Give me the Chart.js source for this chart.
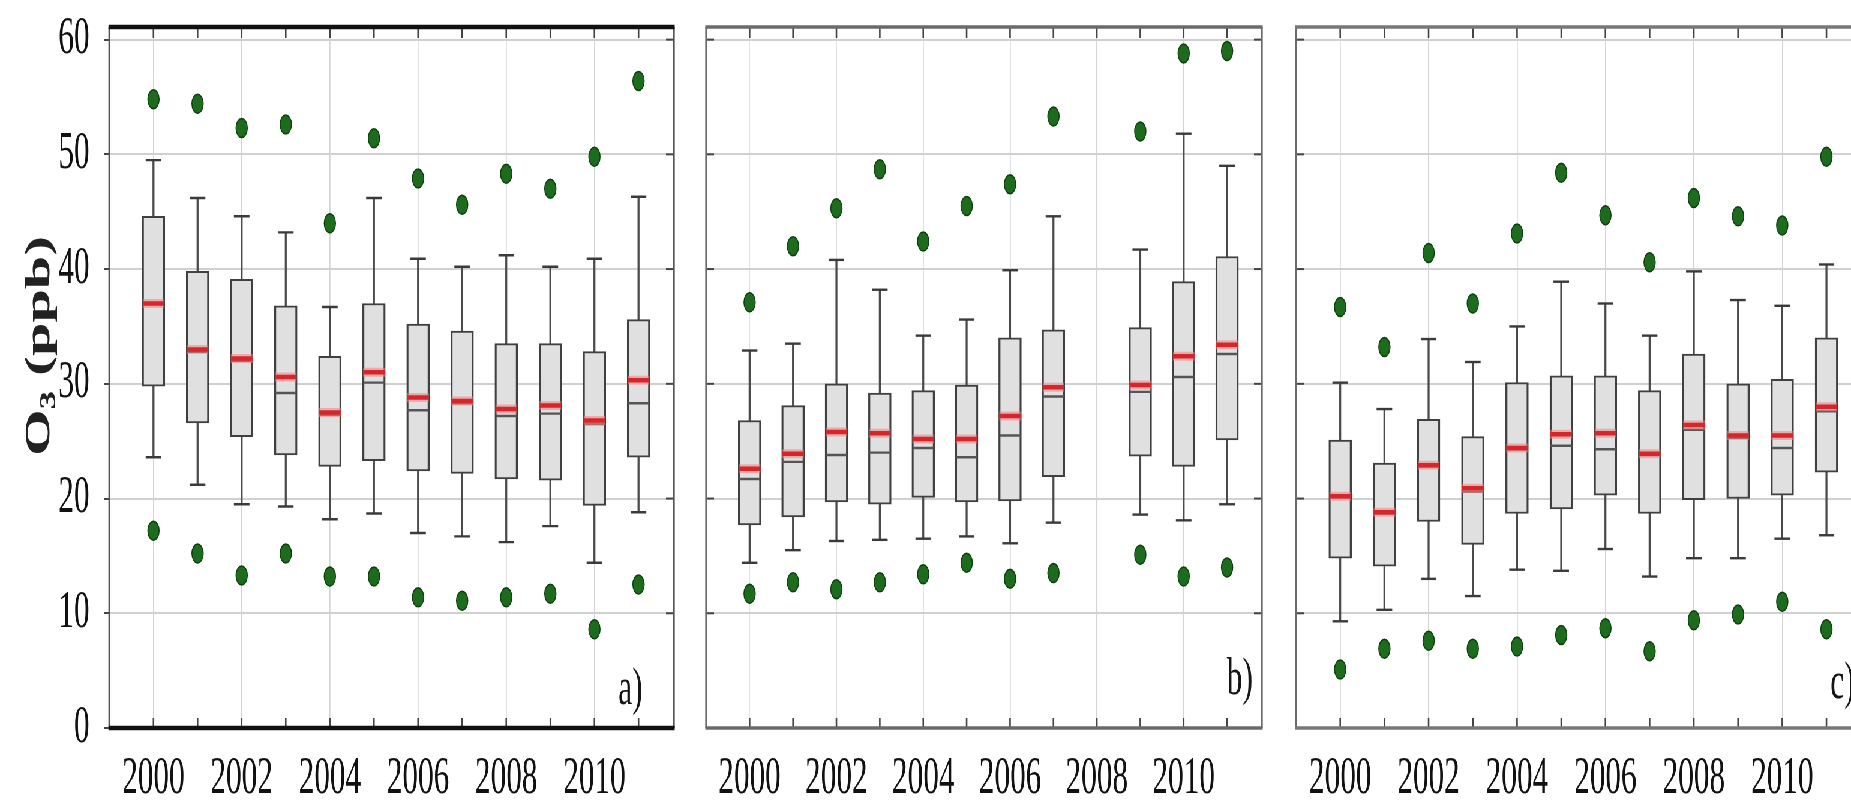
<!DOCTYPE html>
<html>
<head>
<meta charset="utf-8">
<script src="https://cdn.jsdelivr.net/npm/chart.js@4.4.1/dist/chart.umd.min.js"></script>
<style>
  html, body { margin: 0; padding: 0; background: #fff; overflow: hidden; }
  body { width: 1851px; height: 802px; position: relative; }
  /* a figura original está comprimida na horizontal: desenha-se larga e encolhe-se */
  #faixa { position: absolute; left: 0; top: 0; width: 3200px; height: 802px; transform: scaleX(0.6); transform-origin: 0 0; }
  #faixa canvas { position: absolute; top: 0; }
</style>
</head>
<body>
<div id="faixa">
  <canvas id="painelA" width="1150" height="802" style="left:0px"></canvas>
  <canvas id="painelB" width="980" height="802" style="left:1150px"></canvas>
  <canvas id="painelC" width="1000" height="802" style="left:2130px"></canvas>
</div>
<script>
// Anos e marcas dos eixos
const years = [2000, 2001, 2002, 2003, 2004, 2005, 2006, 2007, 2008, 2009, 2010, 2011];
const xTickLabels = [2000, 2002, 2004, 2006, 2008, 2010];
const yTicks = [0, 10, 20, 30, 40, 50, 60];

// Painel a)
const aLowDot = [17.2, 15.2, 13.3, 15.2, 13.2, 13.2, 11.4, 11.1, 11.4, 11.7, 8.6, 12.5];
const aLowWhisker = [23.6, 21.2, 19.5, 19.3, 18.2, 18.7, 17.0, 16.7, 16.2, 17.6, 14.4, 18.8];
const aQ1 = [29.8, 26.6, 25.4, 23.8, 22.8, 23.3, 22.4, 22.2, 21.7, 21.6, 19.4, 23.6];
const aMedian = [37.0, 32.8, 32.0, 29.2, 27.3, 30.1, 27.7, 28.3, 27.2, 27.4, 26.5, 28.3];
const aMean = [37.0, 33.0, 32.2, 30.6, 27.5, 31.0, 28.8, 28.5, 27.8, 28.1, 26.8, 30.3];
const aQ3 = [44.6, 39.8, 39.1, 36.8, 32.4, 37.0, 35.2, 34.6, 33.5, 33.5, 32.8, 35.6];
const aHighWhisker = [49.5, 46.2, 44.6, 43.2, 36.7, 46.2, 40.9, 40.2, 41.2, 40.2, 40.9, 46.3];
const aHighDot = [54.8, 54.4, 52.3, 52.6, 44.0, 51.4, 47.9, 45.6, 48.3, 47.0, 49.8, 56.4];

// Painel b) (sem dados em 2008)
const bLowDot = [11.7, 12.7, 12.1, 12.7, 13.4, 14.4, 13.0, 13.5, null, 15.1, 13.2, 14.0];
const bLowWhisker = [14.4, 15.5, 16.3, 16.4, 16.5, 16.7, 16.1, 17.9, null, 18.6, 18.1, 19.5];
const bQ1 = [17.7, 18.4, 19.7, 19.5, 20.1, 19.7, 19.8, 21.9, null, 23.7, 22.8, 25.1];
const bMedian = [21.7, 23.2, 23.8, 24.0, 24.4, 23.6, 25.5, 28.9, null, 29.3, 30.6, 32.6];
const bMean = [22.6, 23.9, 25.8, 25.7, 25.2, 25.2, 27.2, 29.7, null, 29.9, 32.4, 33.4];
const bQ3 = [26.8, 28.1, 30.0, 29.2, 29.4, 29.9, 34.0, 34.7, null, 34.9, 38.9, 41.1];
const bHighWhisker = [32.9, 33.5, 40.8, 38.2, 34.2, 35.6, 39.9, 44.6, null, 41.7, 51.8, 49.0];
const bHighDot = [37.1, 42.0, 45.3, 48.7, 42.4, 45.5, 47.4, 53.3, null, 52.0, 58.8, 59.0];

// Painel c)
const cLowDot = [5.1, 6.9, 7.6, 6.9, 7.1, 8.1, 8.7, 6.7, 9.4, 9.9, 11.0, 8.6];
const cLowWhisker = [9.3, 10.3, 13.0, 11.5, 13.8, 13.7, 15.6, 13.2, 14.8, 14.8, 16.5, 16.8];
const cQ1 = [14.8, 14.1, 18.0, 16.0, 18.7, 19.1, 20.3, 18.7, 19.9, 20.0, 20.3, 22.3];
const cMedian = [20.1, 18.7, 22.8, 20.6, 24.3, 24.6, 24.3, 23.8, 26.0, 25.3, 24.4, 27.6];
const cMean = [20.2, 18.8, 22.9, 20.9, 24.4, 25.6, 25.7, 23.9, 26.4, 25.5, 25.5, 28.0];
const cQ3 = [25.1, 23.1, 26.9, 25.4, 30.1, 30.7, 30.7, 29.4, 32.6, 30.0, 30.4, 34.0];
const cHighWhisker = [30.1, 27.8, 33.9, 31.9, 35.0, 38.9, 37.0, 34.2, 39.8, 37.3, 36.8, 40.4];
const cHighDot = [36.7, 33.2, 41.4, 37.0, 43.1, 48.4, 44.7, 40.6, 46.2, 44.6, 43.8, 49.8];

const serif = '"Liberation Serif", "Times New Roman", serif';

// Moldura, marcas internas, letra do painel e título do eixo y
const painelPlugin = {
    id: "painel",
    afterDraw(chart, args, o) {
        const { ctx, chartArea: a, scales: { x, y } } = chart;
        const linha = (x1, y1, x2, y2) => {
            ctx.beginPath();
            ctx.moveTo(x1, y1);
            ctx.lineTo(x2, y2);
            ctx.stroke();
        };
        ctx.save();
        ctx.strokeStyle = "#444";
        ctx.lineWidth = 2.6;
        years.forEach((v) => {
            const px = x.getPixelForValue(v);
            linha(px, a.top, px, a.top + 11);
            linha(px, a.bottom, px, a.bottom - 10);
        });
        ctx.lineWidth = 2;
        yTicks.forEach((v) => {
            const py = y.getPixelForValue(v);
            linha(a.right, py, a.right - 13, py);
            if (o.innerLeft) linha(a.left, py, a.left + 13, py);
        });

        ctx.strokeStyle = o.sideColor;
        ctx.lineWidth = 3.3;
        linha(a.left, a.top, a.left, a.bottom);
        linha(a.right, a.top, a.right, a.bottom);
        ctx.strokeStyle = o.edgeColor;
        ctx.lineWidth = o.edgeWidth;
        linha(a.left - 1.5, a.top, a.right + 1.5, a.top);
        linha(a.left - 1.5, a.bottom, a.right + 1.5, a.bottom);

        ctx.fillStyle = "#151515";
        ctx.font = "52px " + serif;
        ctx.textAlign = "right";
        ctx.textBaseline = "alphabetic";
        ctx.fillText(o.label, a.right - o.labelDx, a.bottom - o.labelDy);

        if (o.title) {
            const s = 60;
            ctx.translate(62, 346);
            ctx.rotate(-Math.PI / 2);
            ctx.fillStyle = "#222";
            ctx.textAlign = "left";
            ctx.font = "bold " + s + "px " + serif;
            const wO = ctx.measureText("O").width;
            const wR = ctx.measureText(" (ppb)").width;
            ctx.font = "bold " + Math.round(s * 0.62) + "px " + serif;
            const w3 = ctx.measureText("3").width;
            let px = -(wO + w3 + wR) / 2;
            const base = s * 0.33;
            ctx.font = "bold " + s + "px " + serif;
            ctx.fillText("O", px, base);
            px += wO;
            ctx.font = "bold " + Math.round(s * 0.62) + "px " + serif;
            ctx.fillText("3", px, base + s * 0.17);
            px += w3;
            ctx.font = "bold " + s + "px " + serif;
            ctx.fillText(" (ppb)", px, base);
        }
        ctx.restore();
    },
};

function criarPainel(id, d, p) {
    const caixa = (lo, hi) =>
        years.map((x, i) => ({ x, y: [lo[i], hi[i]] })).filter((v) => v.y[0] != null);
    const pontos = (arr) =>
        years.map((x, i) => ({ x, y: arr[i] })).filter((v) => v.y != null);
    const marca = (arr, raio, largura, cor, ordem) => ({
        type: "line",
        data: pontos(arr),
        showLine: false,
        pointStyle: "line",
        pointRadius: raio,
        pointBorderWidth: largura,
        pointBorderColor: cor,
        order: ordem,
    });
    const bolinha = (arr) => ({
        type: "line",
        data: pontos(arr),
        showLine: false,
        pointStyle: "circle",
        pointRadius: 9.5,
        pointBackgroundColor: "#1d6b1d",
        pointBorderColor: "#0c3f0c",
        pointBorderWidth: 1.5,
        order: 1,
    });

    return new Chart(document.getElementById(id), {
        type: "bar",
        data: {
            datasets: [
                {
                    data: caixa(d.lowWhisker, d.highWhisker),
                    barThickness: 2.6,
                    backgroundColor: "#4a4a4a",
                    grouped: false,
                    order: 9,
                },
                {
                    data: caixa(d.q1, d.q3),
                    barThickness: 38,
                    backgroundColor: "#e0e0e0",
                    borderColor: "#404040",
                    borderWidth: { top: 2, bottom: 2, left: 3.3, right: 3.3 },
                    borderSkipped: false,
                    grouped: false,
                    order: 8,
                },
                marca(d.lowWhisker, 13, 2.4, "#3a3a3a", 7),
                marca(d.highWhisker, 13, 2.4, "#3a3a3a", 7),
                marca(d.median, 17.5, 2.4, "#555", 6),
                marca(d.mean, 18, 9, "rgba(240,130,130,0.55)", 5),
                marca(d.mean, 18, 4.5, "#d6262b", 4),
                bolinha(d.lowDot),
                bolinha(d.highDot),
            ],
        },
        plugins: [painelPlugin],
        options: {
            animation: false,
            responsive: false,
            devicePixelRatio: 1,
            events: [],
            layout: { padding: { top: 15.5, right: p.padRight, bottom: 0, left: 0 } },
            plugins: {
                legend: { display: false },
                tooltip: { enabled: false },
                painel: p.frame,
            },
            scales: {
                x: {
                    type: "linear",
                    min: 1999,
                    max: 2011.8,
                    offset: false,
                    afterBuildTicks: (s) => {
                        s.ticks = years.map((v) => ({ value: v }));
                    },
                    afterFit: (s) => {
                        s.height = 74;
                        s.paddingLeft = 0;
                        s.paddingRight = 0;
                    },
                    border: { display: false },
                    grid: {
                        offset: false,
                        drawTicks: false,
                        lineWidth: 1.7,
                        color: (c) =>
                            c.tick && xTickLabels.includes(c.tick.value) ? "#d4d4d4" : "rgba(0,0,0,0)",
                    },
                    ticks: {
                        autoSkip: false,
                        maxRotation: 0,
                        padding: 20,
                        color: "#111",
                        font: { family: serif, size: 52 },
                        callback: (v) => (xTickLabels.includes(v) ? String(v) : ""),
                    },
                },
                y: {
                    min: 0,
                    max: 61.1,
                    afterBuildTicks: (s) => {
                        s.ticks = yTicks.map((v) => ({ value: v }));
                    },
                    afterFit: (s) => {
                        s.width = p.axisWidth;
                        s.paddingTop = 0;
                        s.paddingBottom = 0;
                    },
                    border: { display: false },
                    grid: {
                        color: "#d0d0d0",
                        lineWidth: 2,
                        drawTicks: p.showY,
                        tickLength: 9,
                        tickColor: "#444",
                        tickWidth: 2,
                    },
                    ticks: {
                        display: p.showY,
                        padding: 24,
                        color: "#111",
                        font: { family: serif, size: 52 },
                    },
                },
            },
        },
    });
}

document.addEventListener("DOMContentLoaded", () => {
    criarPainel(
        "painelA",
        { lowDot: aLowDot, lowWhisker: aLowWhisker, q1: aQ1, median: aMedian, mean: aMean, q3: aQ3, highWhisker: aHighWhisker, highDot: aHighDot },
        {
            showY: true,
            axisWidth: 182.3,
            padRight: 25,
            frame: { label: "a)", labelDx: 52, labelDy: 24, edgeColor: "#111", edgeWidth: 4.5, sideColor: "#555", innerLeft: false, title: true },
        }
    );
    criarPainel(
        "painelB",
        { lowDot: bLowDot, lowWhisker: bLowWhisker, q1: bQ1, median: bMedian, mean: bMean, q3: bQ3, highWhisker: bHighWhisker, highDot: bHighDot },
        {
            showY: false,
            axisWidth: 18.8,
            padRight: 18.3,
            frame: { label: "b)", labelDx: 15, labelDy: 34, edgeColor: "#6a6a6a", edgeWidth: 3.5, sideColor: "#6a6a6a", innerLeft: true, title: false },
        }
    );
    criarPainel(
        "painelC",
        { lowDot: cLowDot, lowWhisker: cLowWhisker, q1: cQ1, median: cMedian, mean: cMean, q3: cQ3, highWhisker: cHighWhisker, highDot: cHighDot },
        {
            showY: false,
            axisWidth: 30,
            padRight: 27,
            frame: { label: "c)", labelDx: 12, labelDy: 30, edgeColor: "#777", edgeWidth: 3.5, sideColor: "#6a6a6a", innerLeft: true, title: false },
        }
    );
});
</script>
</body>
</html>
